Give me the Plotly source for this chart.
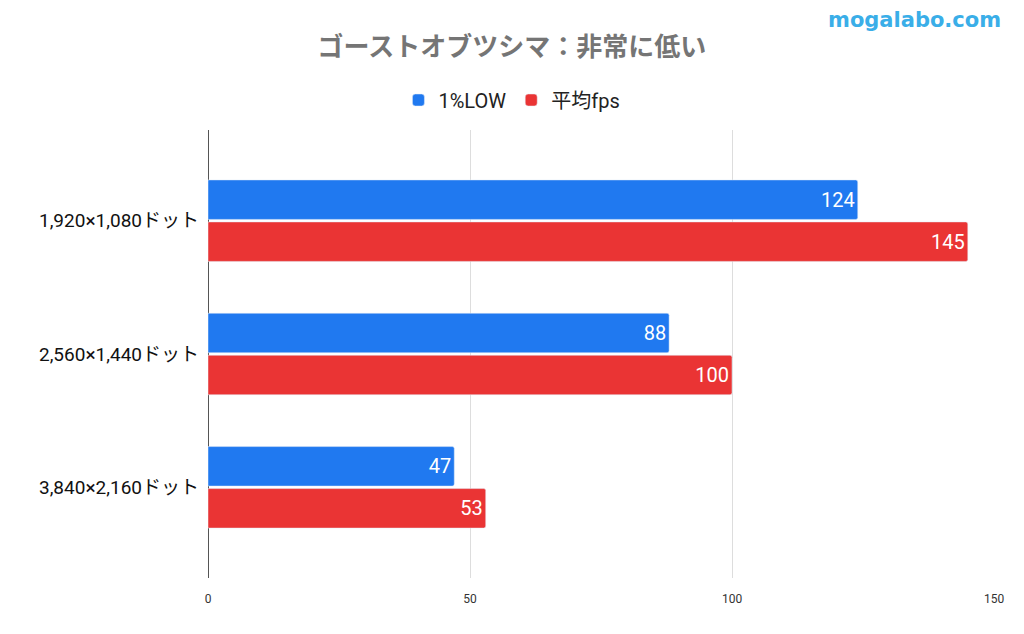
import plotly.graph_objects as go

# data
resolutions = ['1,920×1,080ドット', '2,560×1,440ドット', '3,840×2,160ドット']
low_1pct = [124, 88, 47]
avg_fps = [145, 100, 53]
x_ticks = [0, 50, 100, 150]

jp_font = 'Noto Sans CJK JP, Noto Sans, sans-serif'
mix_font = 'Roboto, Noto Sans CJK JP, sans-serif'

fig = go.Figure()
fig.add_trace(go.Bar(y=resolutions, x=low_1pct, name='1%LOW', orientation='h',
                     marker_color='#2079f0', text=low_1pct,
                     textposition='inside', insidetextanchor='end',
                     textfont=dict(color='white', size=20, family='Roboto')))
fig.add_trace(go.Bar(y=resolutions, x=avg_fps, name='平均fps', orientation='h',
                     marker_color='#ea3434', text=avg_fps,
                     textposition='inside', insidetextanchor='end',
                     textfont=dict(color='white', size=20, family='Roboto')))

# the page body adds 8px, so the figure is 8px smaller than the window
fig.update_layout(
    width=1016, height=626,
    margin=dict(l=200, r=30, t=122, b=56),
    paper_bgcolor='white', plot_bgcolor='white',
    barmode='group', bargap=0.37, bargroupgap=0.06, barcornerradius=2,
    title=dict(text='<b>ゴーストオブツシマ：非常に低い</b>', x=0.496, xref='container',
               xanchor='center', y=0.938, yref='container', yanchor='middle',
               font=dict(family=jp_font, size=26, color='#757575')),
    legend=dict(orientation='h', x=0.496, xref='container', xanchor='center',
                y=0.853, yref='container', yanchor='middle',
                font=dict(family=mix_font, size=20, color='#222222'),
                traceorder='normal'),
    font=dict(family=jp_font),
    showlegend=True,
)

fig.update_xaxes(range=[0, 150], tickvals=x_ticks, showgrid=True,
                 gridcolor='#dddddd', zeroline=True, zerolinecolor='#555555',
                 zerolinewidth=1, tickfont=dict(family='Roboto', size=12, color='#333333'),
                 ticks='', ticklabelstandoff=12, automargin=False)
fig.update_yaxes(range=[2.68, -0.68], showgrid=False, ticks='',
                 tickfont=dict(family=mix_font, size=19, color='#111111'),
                 ticklabelstandoff=8, automargin=False)

fig.add_annotation(text='<b>mogalabo.com</b>', xref='paper', yref='paper',
                   x=1.012, y=1.245, xanchor='right', yanchor='middle', showarrow=False,
                   font=dict(family='DejaVu Sans', size=21, color='#3aaee8'))

fig.write_html('out.html')
